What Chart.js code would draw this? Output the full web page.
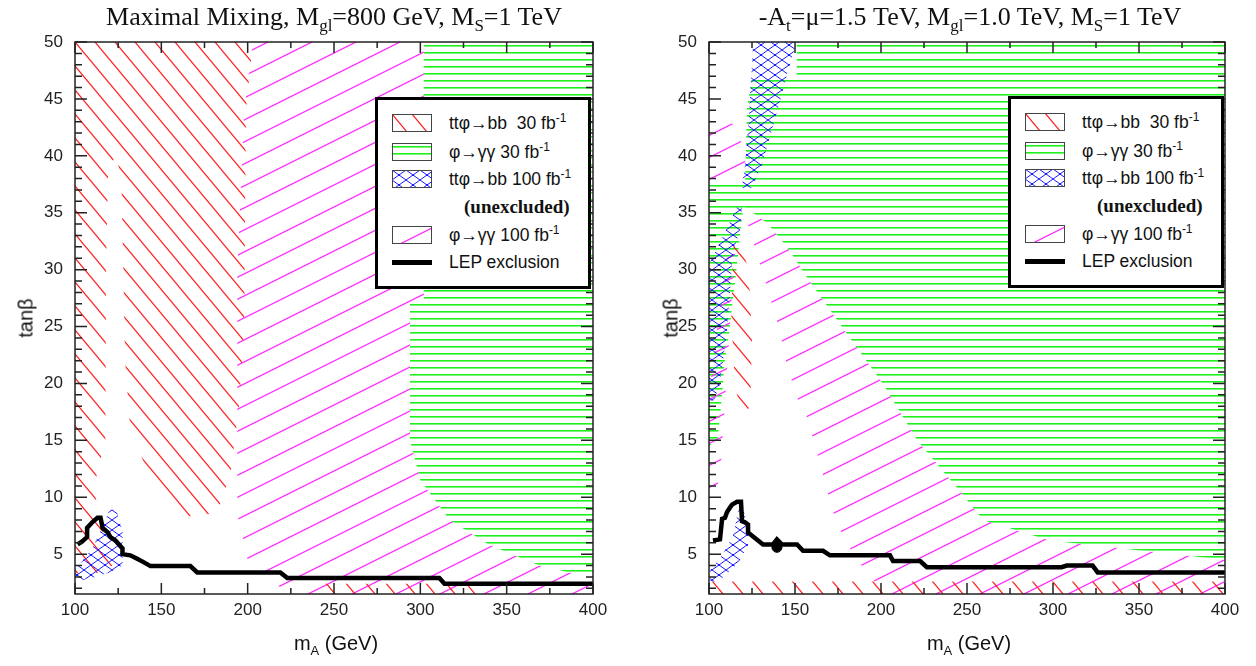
<!DOCTYPE html>
<html>
<head>
<meta charset="utf-8">
<script src="https://cdn.jsdelivr.net/npm/chart.js@4.4.0/dist/chart.umd.min.js"></script>
<style>
  body { margin: 0; background: #fff; }
  #page { position: relative; width: 1256px; height: 666px; overflow: hidden; font-family: "Liberation Sans", Arial, sans-serif; color: #111; }
  canvas.plot { position: absolute; top: 0; }
  .title { position: absolute; top: 2px; font-family: "Liberation Serif", "Times New Roman", serif; font-size: 26px; white-space: nowrap; transform: translateX(-50%); }
  .title sub { font-size: 17px; vertical-align: -6px; }
  .xlab { position: absolute; top: 632px; font-size: 20px; white-space: nowrap; transform: translateX(-50%); }
  .xlab sub { font-size: 13px; vertical-align: -5px; }
  .ylab { position: absolute; font-size: 20px; white-space: nowrap; transform: translate(-50%, -50%) rotate(-90deg); }
  .legend { position: absolute; width: 216px; height: 192px; background: #fff; border: 3px solid #000; box-sizing: border-box; }
  .legend .row { position: absolute; left: 0; height: 20px; width: 100%; }
  .legend canvas { position: absolute; left: 14px; top: 1px; }
  .legend span { position: absolute; left: 71px; top: 0; font-size: 17.5px; line-height: 20px; white-space: nowrap; }
  .legend sup { font-size: 12px; vertical-align: 7px; line-height: 0; }
  .legend .unex { font-family: "Liberation Serif", "Times New Roman", serif; font-weight: bold; font-size: 19px; left: 86px; }
</style>
</head>
<body>
<div id="page">
  <canvas id="mm" class="plot" width="628" height="666" style="left:0"></canvas>
  <canvas id="ct" class="plot" width="628" height="666" style="left:628px"></canvas>

  <div class="title" style="left:334px">Maximal Mixing, M<sub>gl</sub>=800 GeV, M<sub>S</sub>=1 TeV</div>
  <div class="title" style="left:970px">-A<sub>t</sub>=&mu;=1.5 TeV, M<sub>gl</sub>=1.0 TeV, M<sub>S</sub>=1 TeV</div>

  <div class="xlab" style="left:336px">m<sub>A</sub> (GeV)</div>
  <div class="xlab" style="left:969px">m<sub>A</sub> (GeV)</div>
  <div class="ylab" style="left:26px; top:318px">tan&beta;</div>
  <div class="ylab" style="left:671px; top:318px">tan&beta;</div>

  <div class="legend" id="legMM" style="left:375px; top:97px"></div>
  <div class="legend" id="legCT" style="left:1008px; top:96px"></div>
</div>

<script>
// x: m_A (GeV), y: tan(beta)
const xTicks = [100, 150, 200, 250, 300, 350, 400];
const yTicks = [5, 10, 15, 20, 25, 30, 35, 40, 45, 50];

// --- Maximal mixing panel ---
const mmBb30 = [[100,50],[203,50],[199,44],[198,25],[195,18],[190,12],[182,8.6],[165,8.3],[150,10],[140,13],[132,16],[129,22],[128,30],[127,37],[124,40.5],[119,38],[118,30],[117.6,15],[111,11],[114,8],[118,6],[122,4],[112,3.3],[100,3.3]];
const mmBb30Low = [[240,1.5],[340,1.5],[336,2.4],[244,2.4]];
const mmGg30 = [[302,50],[400,50],[400,2.9],[369,4],[340,5.8],[317,8],[300,11.5],[294,15],[294,27],[302,27]];
const mmGg100 = [[203,50],[302,50],[302,27],[294,27],[294,15],[300,11.5],[317,8],[340,5.8],[369,4],[400,2.9],[400,1.5],[225,1.5],[201,3.8],[194,8.5],[194,30],[198,44]];
const mmBb100 = [[100,2.6],[100,3.6],[110,5.5],[116,7.5],[120,8.9],[124,8.9],[127.5,7],[127.5,4],[120,3.4],[110,2.9]];
const mmLep = [[101.5,5.85],[104,6.1],[107,6.5],[107,7.3],[110,7.8],[113,8.2],[114.8,8.2],[116,7.3],[119,6.9],[120.5,6.5],[123.4,6.2],[127.5,5.5],[127.5,5.0],[132,4.9],[136,4.6],[139.7,4.3],[143.7,3.95],[166.8,3.95],[170.8,3.4],[218.9,3.4],[223,2.9],[311,2.9],[314,2.4],[400,2.4]];

// --- -At = mu = 1.5 TeV panel ---
const ctGg30 = [[151,50],[400,50],[400,4.5],[298,6.2],[259.3,8],[247.7,10.2],[221,15],[201,20],[179,24.6],[157,29.3],[145.3,32],[133.7,34.1],[123.8,35.2],[120,35.5],[118,33],[116,30],[114,27.6],[112,24.7],[109,21.8],[107.6,19],[105,15],[100,14.5],[100,37.6],[121,37.6],[122,44],[125,47],[151,47]];
const ctGg100 = [[121,34.8],[123.8,35.2],[133.7,34.1],[145.3,32],[157,29.3],[179,24.6],[201,20],[221,15],[247.7,10.2],[259.3,8],[298,6.2],[400,4.5],[400,1.5],[200,1.5],[193.6,3.3],[186,4.4],[174.4,7.6],[168.6,10.6],[163,13.8],[157,17],[151,18.8],[145,21.8],[141,24.7],[135.5,27.6],[129.6,30.5]];
const ctGg100Top = [[100,37.6],[100,43],[108,43.5],[116,42.5],[121,40],[121,37.6]];
const ctGg100Side = [[100,10],[100,19],[104,24],[110,31],[116,33],[113,27],[110,20],[107,13],[104,10]];
const ctBb30 = [[114,32],[118,32.5],[123,30],[125,24],[124,18],[119,17],[115,20],[113,26]];
const ctBb30Low = [[100,1.5],[400,1.5],[400,2.6],[100,2.6]];
const ctBb100Top = [[125.6,50],[151,50],[145,47],[142,45.2],[136.6,42.3],[131,39.3],[125,37.2],[119,37.2],[121,39.3],[122.7,42.3],[123.8,45.2],[125,48]];
const ctBb100Mid = [[116.3,35.5],[119.2,35.5],[118,33.5],[115,32],[113.4,30.5],[112,27.6],[110.5,24.7],[108,21.8],[106,19.7],[103,18.5],[100,18.5],[100,30.5],[105.2,32],[110,33.5]];
const ctBb100Low = [[100.6,2.7],[100.6,3.6],[107.6,4.9],[114,6.6],[116.9,8.8],[119.2,9.3],[122.7,7.5],[122.7,5.8],[116.9,4.2],[107.6,2.9],[101.7,2.5]];
const ctLep = [[102.3,6.2],[106.4,6.3],[107.6,8.1],[109.3,8.2],[110.5,8.7],[112.2,9.1],[113.4,9.35],[116.3,9.6],[118.6,9.6],[119.2,7.9],[120.9,7.8],[122.7,7.6],[122.7,6.9],[131.4,5.85],[137.2,5.85],[139.5,6.3],[142.4,5.85],[151.2,5.85],[154.7,5.3],[166.3,5.3],[170.3,4.9],[205.2,4.9],[207,4.4],[222.7,4.4],[226.7,3.85],[263.4,3.85],[305,3.85],[308,4.0],[323,4.0],[326,3.4],[400,3.4]];
const ctMark = [[139.5,5.6]];

// hatch tiles
function tile(w, h, paint) {
    const c = document.createElement('canvas');
    c.width = w; c.height = h;
    const g = c.getContext('2d');
    paint(g, w, h);
    return g.createPattern(c, 'repeat');
}
function back(g, w, h) { // "\" lines
    g.beginPath();
    for (const dx of [-w, 0, w]) { g.moveTo(dx - w, -h); g.lineTo(dx + 2 * w, 2 * h); }
    g.stroke();
}
function fwd(g, w, h) { // "/" lines
    g.beginPath();
    for (const dx of [-w, 0, w]) { g.moveTo(dx - w, 2 * h); g.lineTo(dx + 2 * w, -h); }
    g.stroke();
}
const redHatch = tile(20, 24, (g, w, h) => { g.strokeStyle = '#ff2020'; g.lineWidth = 1.2; back(g, w, h); });
const pinkHatch = tile(44, 22, (g, w, h) => { g.strokeStyle = '#ff30ff'; g.lineWidth = 1.3; fwd(g, w, h); });
const greenHatch = tile(4, 7, (g, w, h) => { g.fillStyle = '#1ef01e'; g.fillRect(0, 3, w, 1.6); });
const blueHatch = tile(14, 10, (g, w, h) => {
    g.strokeStyle = '#1a1aff'; g.lineWidth = 1;
    back(g, w, h); fwd(g, w, h);
    g.fillStyle = '#1a1aff'; g.fillRect(w / 2 - 1, h / 2 - 1, 2, 2);
});

function region(pts, pattern, order) {
    return {
        data: pts.map(([x, y]) => ({ x, y })),
        showLine: true, fill: 'shape', backgroundColor: pattern,
        borderColor: 'rgba(0,0,0,0)', borderWidth: 0, pointRadius: 0, order
    };
}
function lep(pts) {
    return {
        data: pts.map(([x, y]) => ({ x, y })),
        showLine: true, fill: false, borderColor: '#000', borderWidth: 4.5,
        borderJoinStyle: 'miter', pointRadius: 0, order: 0
    };
}

// frame with inward ticks on all four sides
const framePlugin = {
    id: 'frame',
    afterDatasetsDraw(chart) {
        const { ctx, chartArea: a, scales: { x, y } } = chart;
        ctx.save();
        ctx.strokeStyle = '#222';
        ctx.lineWidth = 1.5;
        ctx.beginPath();
        for (let v = 100; v <= 400; v += 25) {
            const px = x.getPixelForValue(v), len = v % 50 === 0 ? 11 : 6;
            ctx.moveTo(px, a.bottom); ctx.lineTo(px, a.bottom - len);
            ctx.moveTo(px, a.top); ctx.lineTo(px, a.top + len);
        }
        for (let v = 2; v <= 50; v++) {
            const py = y.getPixelForValue(v), len = v % 5 === 0 ? 12 : 7;
            ctx.moveTo(a.left, py); ctx.lineTo(a.left + len, py);
            ctx.moveTo(a.right, py); ctx.lineTo(a.right - len, py);
        }
        ctx.stroke();
        ctx.strokeRect(a.left, a.top, a.right - a.left, a.bottom - a.top);
        ctx.restore();
    }
};

function makeChart(id, datasets, yWidth, padRight) {
    const tickFont = { family: '"Liberation Sans", Arial, sans-serif', size: 17 };
    return new Chart(document.getElementById(id), {
        type: 'scatter',
        data: { datasets },
        options: {
            responsive: false,
            animation: false,
            layout: { padding: { top: 42, right: padRight, left: 0, bottom: 0 } },
            plugins: { legend: { display: false }, tooltip: { enabled: false } },
            elements: { line: { tension: 0 } },
            scales: {
                x: {
                    type: 'linear', min: 100, max: 400,
                    afterBuildTicks: s => { s.ticks = xTicks.map(v => ({ value: v })); },
                    ticks: { padding: 6, color: '#222', font: tickFont },
                    grid: { display: false, drawTicks: false },
                    border: { display: false },
                    afterFit: s => { s.height = 72; }
                },
                y: {
                    type: 'linear', min: 1.5, max: 50,
                    afterBuildTicks: s => { s.ticks = yTicks.map(v => ({ value: v })); },
                    ticks: { padding: 12, color: '#222', font: tickFont },
                    grid: { display: false, drawTicks: false },
                    border: { display: false },
                    afterFit: s => { s.width = yWidth; }
                }
            }
        },
        plugins: [framePlugin]
    });
}

makeChart('mm', [
    lep(mmLep),
    region(mmBb100, blueHatch, 1),
    region(mmBb30, redHatch, 2),
    region(mmBb30Low, redHatch, 2),
    region(mmGg100, pinkHatch, 3),
    region(mmGg30, greenHatch, 4)
], 75, 35);

makeChart('ct', [
    lep(ctLep),
    { data: ctMark.map(([x, y]) => ({ x, y })), pointRadius: 5, pointBackgroundColor: '#000', pointBorderColor: '#000', order: 0 },
    region(ctBb100Top, blueHatch, 1),
    region(ctBb100Mid, blueHatch, 1),
    region(ctBb100Low, blueHatch, 1),
    region(ctBb30, redHatch, 2),
    region(ctBb30Low, redHatch, 2),
    region(ctGg100, pinkHatch, 3),
    region(ctGg100Top, pinkHatch, 3),
    region(ctGg100Side, pinkHatch, 3),
    region(ctGg30, greenHatch, 4)
], 81, 31);

// legends
const legendRows = [
    { top: 13, pattern: redHatch, html: 'tt&phi;&rarr;bb&nbsp; 30 fb<sup>-1</sup>' },
    { top: 42, pattern: greenHatch, html: '&phi;&rarr;&gamma;&gamma; 30 fb<sup>-1</sup>' },
    { top: 69, pattern: blueHatch, html: 'tt&phi;&rarr;bb 100 fb<sup>-1</sup>' },
    { top: 97, unex: true, html: '(unexcluded)' },
    { top: 125, pattern: pinkHatch, html: '&phi;&rarr;&gamma;&gamma; 100 fb<sup>-1</sup>' },
    { top: 152, line: true, html: 'LEP exclusion' }
];
function buildLegend(id) {
    const box = document.getElementById(id);
    legendRows.forEach(r => {
        const row = document.createElement('div');
        row.className = 'row';
        row.style.top = r.top + 'px';
        if (!r.unex) {
            const c = document.createElement('canvas');
            c.width = 40; c.height = 18;
            const g = c.getContext('2d');
            if (r.line) {
                g.fillStyle = '#000'; g.fillRect(0, 7, 40, 5);
            } else {
                g.fillStyle = r.pattern; g.fillRect(0, 0, 40, 18);
                g.strokeStyle = '#444'; g.lineWidth = 1; g.strokeRect(0.5, 0.5, 39, 17);
            }
            row.appendChild(c);
        }
        const t = document.createElement('span');
        if (r.unex) t.className = 'unex';
        t.innerHTML = r.html;
        row.appendChild(t);
        box.appendChild(row);
    });
}
buildLegend('legMM');
buildLegend('legCT');
</script>
</body>
</html>
